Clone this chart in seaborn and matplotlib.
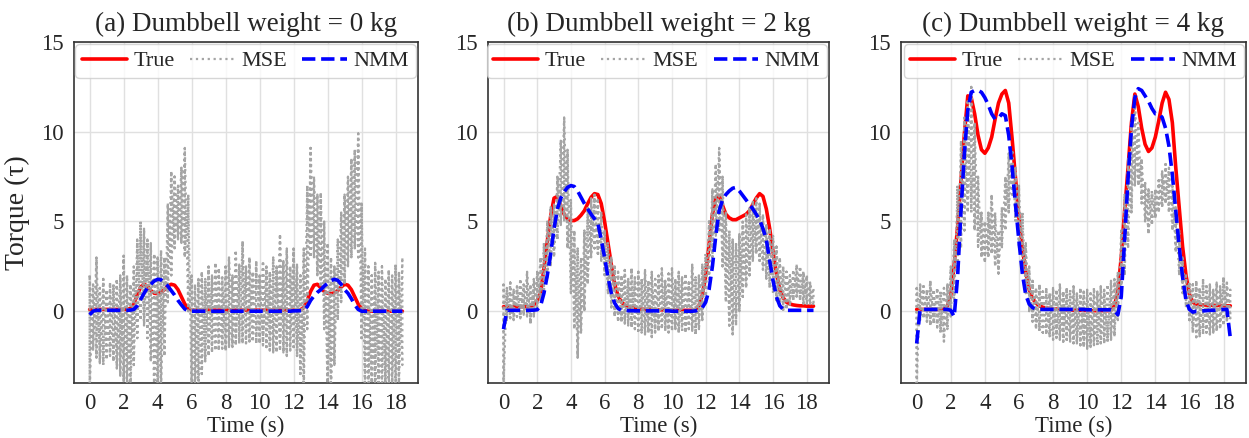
import numpy as np
import matplotlib
matplotlib.use("Agg")
import matplotlib.pyplot as plt
import seaborn as sns

# ---------------- data ----------------
titles = ["(a) Dumbbell weight = 0 kg", "(b) Dumbbell weight = 2 kg", "(c) Dumbbell weight = 4 kg"]
time_s = np.round(np.arange(93) * 0.2, 1)  # 0.0 ... 18.4 s sampling grid

# ---- panel (a) ----
true_a = [0.1, 0.1, 0.1, 0.1, 0.1, 0.1, 0.1, 0.1, 0.1, 0.1,
          0.1, 0.1, 0.15, 0.4, 0.9, 1.35, 1.5, 1.4, 1.15, 1.0,
          0.98, 1.05, 1.2, 1.4, 1.5, 1.45, 1.2, 0.8, 0.4, 0.15,
          0.07, 0.06, 0.06, 0.06, 0.06, 0.06, 0.06, 0.06, 0.06, 0.06,
          0.06, 0.06, 0.06, 0.06, 0.06, 0.06, 0.06, 0.06, 0.06, 0.06,
          0.06, 0.06, 0.06, 0.06, 0.06, 0.06, 0.06, 0.06, 0.06, 0.06,
          0.06, 0.06, 0.08, 0.2, 0.6, 1.1, 1.45, 1.5, 1.3, 1.1,
          1.0, 0.98, 1.02, 1.15, 1.35, 1.5, 1.45, 1.2, 0.8, 0.4,
          0.15, 0.03, 0.0, 0.0, 0.0, 0.0, 0.0, 0.0, 0.0, 0.0,
          0.0, 0.0, 0.0]
nmm_a = [-0.2, 0.0, 0.05, 0.05, 0.05, 0.05, 0.05, 0.05, 0.05, 0.05,
         0.05, 0.05, 0.06, 0.1, 0.3, 0.65, 1.0, 1.3, 1.5, 1.68,
         1.78, 1.75, 1.6, 1.4, 1.15, 0.9, 0.6, 0.35, 0.12, 0.02,
         0.0, 0.0, 0.0, 0.0, 0.0, 0.0, 0.0, 0.0, 0.0, 0.0,
         0.0, 0.0, 0.0, 0.0, 0.0, 0.0, 0.0, 0.0, 0.0, 0.0,
         0.0, 0.0, 0.0, 0.0, 0.0, 0.0, 0.0, 0.0, 0.0, 0.0,
         0.02, 0.02, 0.03, 0.05, 0.25, 0.6, 0.85, 1.05, 1.2, 1.4,
         1.55, 1.7, 1.78, 1.72, 1.5, 1.2, 1.0, 0.7, 0.35, 0.1,
         0.0, 0.0, 0.0, 0.0, 0.0, 0.0, 0.0, 0.0, 0.0, 0.0,
         0.0, 0.0, 0.0]
mse_hi_a = [2.0, 1.5, 3.0, 1.3, 1.8, 1.2, 1.6, 1.5, 1.8, 2.0,
            3.1, 2.0, 1.5, 2.5, 4.0, 5.0, 4.6, 4.0, 3.8, 3.2,
            3.0, 3.4, 3.0, 6.0, 7.8, 7.5, 7.0, 8.0, 9.1, 6.5,
            2.0, 1.5, 1.8, 2.2, 1.8, 2.5, 2.0, 2.7, 2.4, 1.9,
            2.5, 3.0, 2.0, 3.4, 2.6, 3.9, 2.5, 3.0, 2.2, 2.8,
            2.0, 2.8, 2.5, 2.2, 3.0, 2.5, 4.3, 2.8, 3.5, 2.5,
            3.5, 2.6, 2.0, 3.5, 7.0, 9.1, 7.5, 6.5, 6.6, 5.0,
            3.8, 3.0, 2.5, 4.0, 5.5, 6.5, 7.5, 8.5, 9.0, 9.9,
            6.0, 3.5, 2.5, 2.0, 2.7, 2.2, 2.5, 1.8, 2.3, 2.0,
            2.6, 2.2, 3.0]
mse_lo_a = [-4.5, -2.2, -2.6, -2.9, -3.0, -2.7, -2.5, -2.8, -3.2, -3.6,
            -3.9, -4.5, -4.5, -3.0, -1.5, -0.5, -0.8, -1.5, -2.8, -4.5,
            -4.5, -4.5, -2.5, 0.5, 2.0, 3.5, 4.0, 3.8, 3.0, 0.0,
            -4.5, -4.5, -4.5, -3.5, -2.8, -2.5, -2.3, -2.2, -2.2, -2.1,
            -2.2, -2.0, -2.0, -1.9, -1.8, -1.8, -1.8, -1.7, -1.7, -1.8,
            -1.8, -1.9, -2.0, -2.2, -2.3, -2.3, -2.2, -2.3, -2.5, -2.2,
            -2.0, -2.5, -3.5, -4.5, -1.0, 3.0, 3.0, 2.0, 1.0, -1.0,
            -4.5, -4.5, -3.0, -0.5, 0.5, 1.5, 2.5, 3.0, 3.5, 3.0,
            -1.5, -4.5, -4.5, -4.5, -4.5, -4.0, -4.5, -4.0, -4.5, -4.0,
            -4.5, -4.0, -3.0]

# ---- panel (b) ----
true_b = [0.25, 0.25, 0.25, 0.25, 0.25, 0.25, 0.25, 0.25, 0.25, 0.35,
          0.6, 1.0, 2.4, 3.9, 5.3, 6.3, 6.4, 5.9, 5.4, 5.15,
          5.05, 5.05, 5.15, 5.35, 5.6, 6.0, 6.35, 6.55, 6.5, 6.0,
          5.0, 3.8, 2.6, 1.5, 0.85, 0.5, 0.35, 0.25, 0.2, 0.15,
          0.12, 0.12, 0.1, 0.1, 0.1, 0.08, 0.08, 0.08, 0.06, 0.06,
          0.05, 0.05, 0.05, 0.05, 0.05, 0.05, 0.05, 0.1, 0.3, 0.9,
          2.0, 3.7, 5.4, 6.3, 6.45, 5.9, 5.4, 5.2, 5.1, 5.1,
          5.2, 5.3, 5.4, 5.6, 5.95, 6.3, 6.55, 6.4, 5.7, 4.6,
          3.3, 2.1, 1.2, 0.75, 0.5, 0.4, 0.35, 0.32, 0.3, 0.3,
          0.28, 0.28, 0.28]
nmm_b = [-1.0, 0.05, 0.05, 0.05, 0.05, 0.05, 0.05, 0.05, 0.05, 0.06,
         0.08, 0.3, 1.0, 2.0, 3.2, 4.6, 5.7, 6.3, 6.65, 6.9,
         7.0, 6.95, 6.7, 6.35, 6.0, 5.7, 5.4, 5.15, 4.9, 4.0,
         3.0, 1.9, 1.0, 0.45, 0.15, 0.05, 0.05, 0.03, 0.03, 0.02,
         0.02, 0.02, 0.02, 0.02, 0.02, 0.02, 0.02, 0.02, 0.02, 0.02,
         0.0, 0.0, 0.0, 0.0, 0.0, 0.0, 0.0, 0.02, 0.08, 0.2,
         0.5, 1.2, 2.5, 4.2, 5.6, 6.2, 6.5, 6.7, 6.85, 6.9,
         6.7, 6.45, 6.2, 5.95, 5.7, 5.4, 5.1, 4.6, 4.0, 2.8,
         1.7, 0.8, 0.3, 0.1, 0.05, 0.05, 0.05, 0.05, 0.05, 0.05,
         0.05, 0.05, 0.05]
mse_hi_b = [1.5, 1.3, 1.6, 1.2, 1.4, 1.8, 1.5, 2.2, 1.5, 1.8,
            2.2, 3.0, 3.8, 5.0, 5.8, 6.0, 7.5, 9.5, 10.8, 9.0,
            6.2, 4.5, 3.5, 3.0, 4.5, 5.8, 6.3, 6.5, 6.3, 5.5,
            4.5, 3.8, 3.0, 2.5, 2.2, 2.0, 2.3, 1.8, 2.4, 1.9,
            2.2, 1.8, 2.3, 1.7, 2.2, 1.8, 2.0, 2.4, 1.7, 2.1,
            2.4, 1.8, 2.2, 1.9, 2.1, 1.6, 2.6, 1.9, 2.0, 2.6,
            3.2, 5.0, 6.8, 8.2, 9.1, 7.5, 5.5, 4.5, 4.0, 3.8,
            4.3, 5.0, 5.4, 5.8, 6.1, 6.3, 6.0, 5.4, 4.8, 4.6,
            4.2, 3.6, 3.0, 2.5, 2.2, 2.0, 2.3, 2.6, 2.5, 2.2,
            2.0, 1.6, 1.3]
mse_lo_b = [-4.2, -0.5, -0.4, -0.5, -0.3, -0.4, -0.2, -0.3, -0.7, -0.3,
            0.2, 0.6, 1.0, 1.8, 2.5, 3.0, 4.0, 4.8, 5.0, 3.5,
            1.0, -1.0, -2.6, -1.2, 0.0, 1.5, 3.0, 3.5, 3.2, 2.8,
            2.0, 1.0, 0.2, -0.3, -0.6, -0.6, -0.7, -0.8, -0.9, -1.0,
            -1.1, -1.2, -1.3, -1.2, -1.45, -1.2, -1.1, -1.0, -1.1, -1.2,
            -1.1, -1.0, -1.2, -1.1, -1.2, -1.0, -1.1, -1.3, -1.0, -0.5,
            0.5, 1.8, 3.0, 4.2, 4.5, 2.5, 0.5, -0.8, -1.3, -0.8,
            0.0, 0.8, 1.3, 2.0, 2.8, 3.2, 2.8, 2.3, 1.8, 1.3,
            1.0, 0.6, 0.3, 0.0, 0.1, 0.3, 0.6, 0.8, 0.6, 0.4,
            0.4, 0.4, 0.3]

# ---- panel (c) ----
true_c = [0.1, 0.1, 0.1, 0.1, 0.1, 0.1, 0.1, 0.1, 0.1, 0.3,
          0.9, 2.6, 4.7, 7.3, 9.9, 12.0, 11.9, 11.0, 9.8, 9.0,
          8.8, 9.1, 9.7, 10.7, 11.6, 12.1, 12.3, 11.6, 9.6, 7.4,
          5.2, 3.5, 2.2, 1.2, 0.7, 0.45, 0.3, 0.22, 0.18, 0.15,
          0.12, 0.12, 0.1, 0.1, 0.08, 0.08, 0.06, 0.06, 0.05, 0.05,
          0.03, 0.03, 0.03, 0.03, 0.03, 0.03, 0.03, 0.05, 0.3, 1.1,
          3.0, 5.6, 8.0, 10.5, 12.1, 11.4, 10.2, 9.3, 8.9, 9.1,
          9.7, 10.6, 11.6, 12.2, 11.8, 10.5, 8.0, 5.8, 3.6, 2.0,
          0.95, 0.5, 0.38, 0.36, 0.35, 0.34, 0.33, 0.33, 0.32, 0.32,
          0.31, 0.3, 0.3]
nmm_c = [-1.8, 0.1, 0.1, 0.1, 0.1, 0.1, 0.1, 0.1, 0.1, 0.1,
         0.05, -0.3, 1.9, 5.6, 8.8, 11.2, 12.2, 12.3, 12.3, 12.2,
         11.9, 11.5, 11.0, 10.7, 10.75, 11.0, 10.9, 9.8, 8.0, 5.9,
         3.9, 2.1, 0.9, 0.4, 0.2, 0.12, 0.1, 0.1, 0.1, 0.1,
         0.1, 0.1, 0.1, 0.1, 0.1, 0.1, 0.1, 0.1, 0.1, 0.1,
         0.08, 0.08, 0.08, 0.08, 0.08, 0.08, 0.08, 0.08, 0.05, -0.2,
         0.8, 4.0, 7.4, 10.2, 11.9, 12.4, 12.3, 12.0, 11.7, 11.3,
         11.0, 11.0, 10.8, 10.2, 9.2, 7.6, 5.6, 3.6, 1.9, 0.6,
         0.1, -0.05, 0.0, 0.0, 0.02, 0.03, 0.05, 0.05, 0.07, 0.08,
         0.1, 0.1, -1.5]
mse_hi_c = [1.3, 1.5, 1.4, 1.2, 1.7, 1.2, 1.3, 1.1, 1.3, 1.5,
            2.5, 4.0, 7.0, 9.5, 10.8, 11.8, 12.5, 10.5, 7.5, 5.5,
            5.0, 5.5, 6.5, 5.5, 4.5, 5.8, 7.5, 8.8, 9.0, 8.0,
            7.0, 5.5, 3.8, 2.5, 1.7, 1.3, 1.5, 1.1, 1.3, 1.0,
            1.3, 1.2, 1.5, 1.1, 1.3, 1.2, 1.4, 1.0, 1.3, 1.1,
            1.2, 1.0, 1.3, 1.1, 1.4, 1.2, 1.5, 1.7, 1.8, 2.2,
            4.5, 6.5, 8.5, 10.5, 12.0, 10.5, 8.5, 7.2, 6.8, 6.7,
            6.8, 7.3, 7.8, 8.2, 8.0, 7.0, 5.8, 4.5, 3.0, 2.0,
            1.6, 1.5, 1.7, 1.3, 1.8, 1.4, 1.5, 1.2, 1.6, 1.4,
            1.9, 1.6, 1.2]
mse_lo_c = [-4.2, -0.5, -0.4, -0.6, -0.8, -0.7, -0.9, -1.2, -1.7, -1.0,
            -0.3, 0.5, 2.0, 3.5, 4.5, 5.5, 5.5, 4.5, 3.6, 3.0,
            2.7, 3.0, 3.2, 2.5, 2.1, 3.5, 4.5, 5.5, 6.5, 5.0,
            3.5, 2.0, 1.0, 0.0, -0.6, -1.0, -1.1, -1.2, -1.3, -1.4,
            -1.6, -1.5, -1.6, -1.7, -1.6, -1.7, -1.8, -1.8, -1.9, -2.0,
            -2.1, -2.0, -1.9, -1.9, -1.8, -1.8, -1.7, -1.6, -1.4, -0.5,
            0.8, 2.0, 3.5, 5.5, 7.0, 7.0, 6.0, 5.0, 4.3, 4.8,
            5.2, 5.5, 5.8, 6.0, 5.5, 4.5, 3.3, 2.0, 1.0, 0.2,
            -0.5, -1.2, -1.45, -1.4, -1.3, -1.2, -1.3, -1.2, -1.1, -1.0,
            -0.8, -0.6, -0.4]

x_ticks = [0, 2, 4, 6, 8, 10, 12, 14, 16, 18]
y_ticks = [0, 5, 10, 15]

panels = [
    (true_a, nmm_a, mse_hi_a, mse_lo_a),
    (true_b, nmm_b, mse_hi_b, mse_lo_b),
    (true_c, nmm_c, mse_hi_c, mse_lo_c),
]

# ---------------- styling ----------------
sns.set_style("whitegrid")
plt.rcParams["font.family"] = ["Liberation Serif", "DejaVu Serif"]

fig = plt.figure(figsize=(12.49, 4.38), dpi=100)
W, H = 1249.0, 438.0
boxes = [(74, 344), (488, 341), (901, 345)]
ax_bottom = (H - 383) / H
ax_height = 341 / H

for i, ((tr, nm, hi, lo), (left, width)) in enumerate(zip(panels, boxes)):
    ax = fig.add_axes([left / W, ax_bottom, width / W, ax_height])
    hi = np.asarray(hi)
    lo = np.asarray(lo)
    # noisy MSE trace: oscillates between the read upper / lower envelopes,
    # traced forward and back so the crossing strokes fill the band
    fwd_y = np.column_stack([hi, lo]).ravel()
    back_y = np.column_stack([hi[::-1], lo[::-1]]).ravel()
    x_mse = np.concatenate([np.repeat(time_s, 2), np.repeat(time_s[::-1], 2)])
    y_mse = np.concatenate([fwd_y, back_y])

    sns.lineplot(x=time_s, y=tr, ax=ax, color="#ff0000", linewidth=2.6,
                 label="True", estimator=None, sort=False, zorder=2)
    sns.lineplot(x=x_mse, y=y_mse, ax=ax, color="#a0a0a0", linewidth=1.6,
                 linestyle=":", label="MSE", estimator=None, sort=False,
                 alpha=0.95, zorder=3)
    sns.lineplot(x=time_s, y=nm, ax=ax, color="#0000ff", linewidth=2.6,
                 linestyle="--", label="NMM", estimator=None, sort=False,
                 zorder=4)

    ax.set_ylim(-4, 15)
    ax.set_xlim(-0.92, 19.32)
    ax.set_xticks(x_ticks)
    ax.set_yticks(y_ticks)
    ax.tick_params(axis="both", labelsize=16.5, pad=4)
    ax.grid(True, color="0.88", linewidth=1.0)
    for sp in ax.spines.values():
        sp.set_color("0.2")
        sp.set_linewidth(1.2)
    ax.set_title(titles[i], fontsize=19.5, pad=8)
    ax.set_xlabel("Time (s)", fontsize=16.5, labelpad=1)
    if i == 0:
        ax.set_ylabel("Torque (τ)", fontsize=20, labelpad=8)
    else:
        ax.set_ylabel("")
    leg = ax.legend(loc="upper right", ncol=3, fontsize=16, frameon=True,
                    handlelength=2.0, handletextpad=0.3, columnspacing=0.7,
                    borderaxespad=0.1, borderpad=0.3, fancybox=True)
    leg.get_frame().set_edgecolor("0.8")

fig.savefig("out.png", dpi=100)
